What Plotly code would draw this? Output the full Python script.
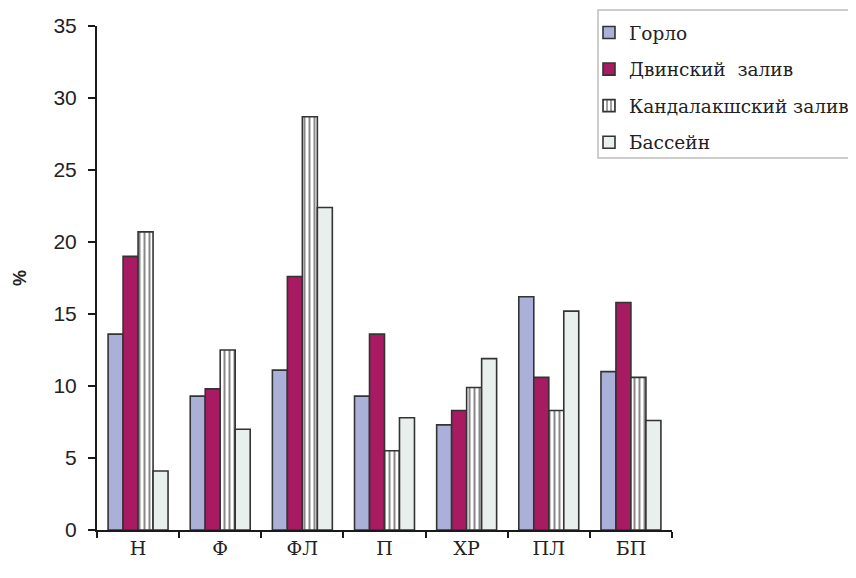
import plotly.graph_objects as go

categories = ["Н", "Ф", "ФЛ", "П", "ХР", "ПЛ", "БП"]
gorlo = [13.6, 9.3, 11.1, 9.3, 7.3, 16.2, 11.0]
dvinsky = [19.0, 9.8, 17.6, 13.6, 8.3, 10.6, 15.8]
kandalaksha = [20.7, 12.5, 28.7, 5.5, 9.9, 8.3, 10.6]
basin = [4.1, 7.0, 22.4, 7.8, 11.9, 15.2, 7.6]

series_names = ["Горло", "Двинский  залив", "Кандалакшский залив", "Бассейн"]

SERIF = "DejaVu Serif, serif"
SANS = "Arial, Liberation Sans, sans-serif"

# figure geometry (page has an 8px body margin)
W, H = 848, 570
L, R, T, B = 89, 184, 18, 48
PW, PH = W - L - R, H - T - B

line = dict(color="#333333", width=1.6)
fig = go.Figure()
fig.add_trace(go.Bar(x=categories, y=gorlo, name=series_names[0], legendgroup="g1",
                     marker=dict(color="#aab0d8", line=line)))
fig.add_trace(go.Bar(x=categories, y=dvinsky, name=series_names[1], legendgroup="g2",
                     marker=dict(color="#a81a62", line=line)))
fig.add_trace(go.Bar(x=categories, y=kandalaksha, name=series_names[2], legendgroup="g3",
                     marker=dict(color="white", line=line,
                                 pattern=dict(shape="|", fgcolor="#111111", bgcolor="white",
                                              size=5, solidity=0.4, fillmode="overlay"))))
fig.add_trace(go.Bar(x=categories, y=basin, name=series_names[3], legendgroup="g4",
                     marker=dict(color="#e9efed", line=line)))

# legend frame (extends past the right edge like the original)
fig.add_shape(type="rect", xref="paper", yref="paper",
              x0=(590 - L) / PW, x1=1.6, y0=(H - B - 150) / PH, y1=(H - B - 2) / PH,
              line=dict(color="#bdbdbd", width=1.5), fillcolor="rgba(0,0,0,0)", layer="below")

fig.update_layout(
    template="none",
    width=W, height=H,
    margin=dict(l=L, r=R, t=T, b=B, autoexpand=False),
    paper_bgcolor="white", plot_bgcolor="white",
    barmode="group", bargap=0.27, bargroupgap=0.0,
    showlegend=True,
    legend=dict(xref="container", yref="container",
                x=581 / W, xanchor="left", y=1 - 6 / H, yanchor="top",
                borderwidth=0, bgcolor="rgba(0,0,0,0)",
                font=dict(family=SERIF, size=18.5, color="#222222"),
                tracegroupgap=9.5, itemwidth=30),
    font=dict(family=SANS, color="#222222"),
)
fig.update_xaxes(
    type="category", showline=True, linecolor="#1a1a1a", linewidth=2,
    ticks="outside", ticklen=6, tickwidth=2, tickcolor="#1a1a1a",
    tickson="boundaries", automargin=False,
    tickfont=dict(family=SERIF, size=19, color="#222222"),
    showgrid=False, zeroline=False,
)
fig.update_yaxes(
    range=[0, 35], dtick=5, showline=True, linecolor="#1a1a1a", linewidth=2,
    ticks="outside", ticklen=7, tickwidth=2, tickcolor="#1a1a1a",
    ticklabelstandoff=7,
    tickfont=dict(family=SANS, size=21, color="#222222"),
    showgrid=False, zeroline=False, automargin=False,
    title=dict(text="<b>%</b>", font=dict(family=SANS, size=18, color="#222222"),
               standoff=22),
)

fig.write_html("out.html")
